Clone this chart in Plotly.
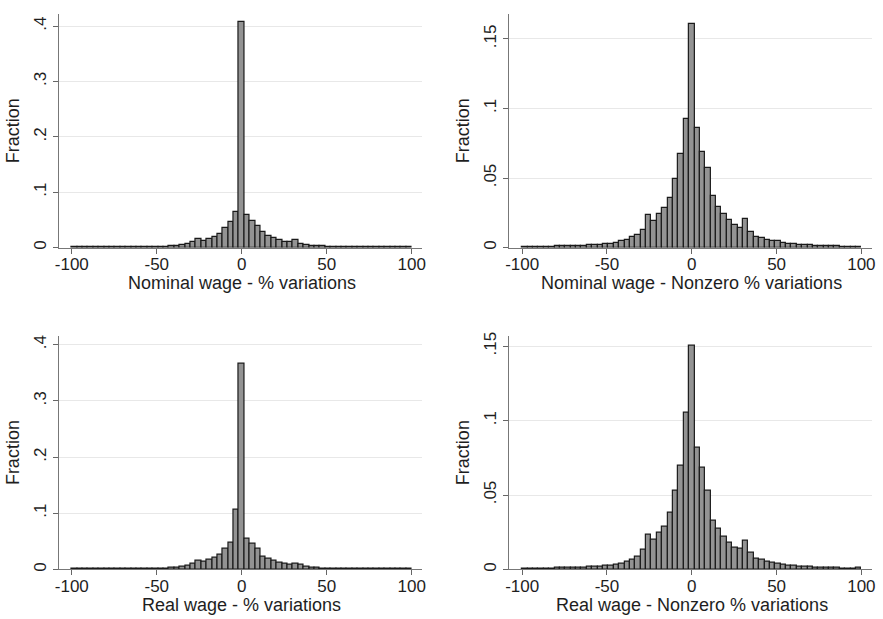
import plotly.graph_objects as go

# ---- Data: histogram fractions, 63 bins from -100 to 100 ----
BIN_START = -100.0
BIN_END = 100.0
N_BINS = 63

nominal_all = [0.0005, 0.0005, 0.0005, 0.0005, 0.0005, 0.0005, 0.0005, 0.0005, 0.0006, 0.0006,
               0.0007, 0.0008, 0.0009, 0.0010, 0.0012, 0.0014, 0.0017, 0.0020, 0.0025, 0.0032,
               0.0042, 0.0060, 0.0100, 0.0165, 0.0130, 0.0155, 0.0185, 0.0245, 0.0350, 0.0465,
               0.0645, 0.4070, 0.0590, 0.0485, 0.0385, 0.0275, 0.0210, 0.0170, 0.0140, 0.0110,
               0.0105, 0.0135, 0.0075, 0.0050, 0.0036, 0.0030, 0.0025, 0.0020, 0.0016, 0.0013,
               0.0011, 0.0010, 0.0009, 0.0008, 0.0007, 0.0006, 0.0006, 0.0005, 0.0005, 0.0005,
               0.0005, 0.0005, 0.0006]

nominal_nonzero = [0.0004, 0.0004, 0.0005, 0.0006, 0.0007, 0.0008, 0.0009, 0.0010, 0.0011, 0.0012,
                   0.0013, 0.0015, 0.0017, 0.0020, 0.0022, 0.0026, 0.0030, 0.0037, 0.0046, 0.0056,
                   0.0075, 0.0092, 0.0130, 0.0232, 0.0193, 0.0243, 0.0285, 0.0356, 0.0495, 0.0675,
                   0.0927, 0.1610, 0.0860, 0.0690, 0.0570, 0.0370, 0.0290, 0.0240, 0.0200, 0.0160,
                   0.0140, 0.0210, 0.0116, 0.0080, 0.0068, 0.0057, 0.0047, 0.0045, 0.0033, 0.0028,
                   0.0024, 0.0023, 0.0020, 0.0017, 0.0015, 0.0013, 0.0012, 0.0010, 0.0009, 0.0008,
                   0.0007, 0.0006, 0.0006]

real_all = [0.0005, 0.0005, 0.0005, 0.0005, 0.0005, 0.0005, 0.0005, 0.0005, 0.0006, 0.0006,
            0.0007, 0.0008, 0.0009, 0.0010, 0.0012, 0.0014, 0.0017, 0.0020, 0.0025, 0.0030,
            0.0040, 0.0060, 0.0100, 0.0150, 0.0130, 0.0170, 0.0210, 0.0260, 0.0370, 0.0480,
            0.1065, 0.3660, 0.0555, 0.0465, 0.0360, 0.0220, 0.0190, 0.0155, 0.0125, 0.0095,
            0.0080, 0.0106, 0.0092, 0.0050, 0.0035, 0.0026, 0.0020, 0.0017, 0.0014, 0.0012,
            0.0011, 0.0010, 0.0009, 0.0008, 0.0007, 0.0006, 0.0006, 0.0005, 0.0005, 0.0005,
            0.0005, 0.0005, 0.0006]

real_nonzero = [0.0004, 0.0004, 0.0005, 0.0006, 0.0007, 0.0008, 0.0009, 0.0010, 0.0011, 0.0012,
                0.0013, 0.0014, 0.0016, 0.0018, 0.0020, 0.0022, 0.0027, 0.0033, 0.0040, 0.0050,
                0.0066, 0.0086, 0.0135, 0.0235, 0.0200, 0.0250, 0.0290, 0.0380, 0.0530, 0.0700,
                0.1055, 0.1500, 0.0820, 0.0686, 0.0530, 0.0330, 0.0274, 0.0220, 0.0180, 0.0148,
                0.0140, 0.0195, 0.0110, 0.0075, 0.0064, 0.0053, 0.0046, 0.0038, 0.0030, 0.0026,
                0.0022, 0.0020, 0.0018, 0.0016, 0.0014, 0.0012, 0.0011, 0.0010, 0.0009, 0.0008,
                0.0007, 0.0006, 0.0012]

x_titles = ["Nominal wage - % variations", "Nominal wage - Nonzero % variations",
            "Real wage - % variations", "Real wage - Nonzero % variations"]
y_title = "Fraction"

x_tickvals = [-100, -50, 0, 50, 100]
x_ticktext = ["-100", "-50", "0", "50", "100"]
y_tick_all_vals = [0, 0.1, 0.2, 0.3, 0.4]
y_tick_all_text = ["0", ".1", ".2", ".3", ".4"]
y_tick_nz_vals = [0, 0.05, 0.1, 0.15]
y_tick_nz_text = ["0", ".05", ".1", ".15"]

# ---- Figure ----
W, H = 883, 619
bw = (BIN_END - BIN_START) / N_BINS
centers = [BIN_START + (k + 0.5) * bw for k in range(N_BINS)]

series = [nominal_all, nominal_nonzero, real_all, real_nonzero]
yranges = [[0, 0.422], [0, 0.168], [0, 0.416], [0, 0.157]]
yticks = [(y_tick_all_vals, y_tick_all_text), (y_tick_nz_vals, y_tick_nz_text),
          (y_tick_all_vals, y_tick_all_text), (y_tick_nz_vals, y_tick_nz_text)]

# pixel boxes (left, right, top, bottom)
boxes = [(55, 421.7, 10, 246), (509, 875, 10, 246),
         (55, 421.7, 335, 571), (509, 875, 335, 571)]
xr = [-107.8, 106.3]

FONT = "Liberation Sans, Arial, sans-serif"
fig = go.Figure()
layout = dict(width=W, height=H, margin=dict(l=0, r=0, t=0, b=0),
              paper_bgcolor="white", plot_bgcolor="white", showlegend=False,
              font=dict(family=FONT, size=17, color="#1e1e1e"), bargap=0)
annotations = []

for i, vals in enumerate(series):
    n = i + 1
    sfx = "" if n == 1 else str(n)
    fig.add_trace(go.Bar(x=centers, y=vals, width=bw,
                         marker=dict(color="#939393", line=dict(color="#1a1a1a", width=1.2)),
                         xaxis="x" + sfx, yaxis="y" + sfx, hoverinfo="x+y"))
    l, r, t, b = boxes[i]
    layout["xaxis" + sfx] = dict(
        domain=[l / W, r / W], range=xr, anchor="y" + sfx,
        tickvals=x_tickvals, ticktext=x_ticktext, ticks="outside", ticklen=5,
        tickcolor="#666666", showline=True, linecolor="#777777", linewidth=1,
        showgrid=False, zeroline=False, tickfont=dict(size=17), ticklabelstandoff=-4)
    tv, tt = yticks[i]
    layout["yaxis" + sfx] = dict(
        domain=[1 - b / H, 1 - t / H], range=yranges[i], anchor="x" + sfx,
        tickvals=tv, ticktext=tt, ticks="outside", ticklen=5, tickangle=-90,
        tickcolor="#666666", showline=True, linecolor="#777777", linewidth=1,
        showgrid=True, gridcolor="#e8e8e8", gridwidth=1, zeroline=False,
        tickfont=dict(size=17),
        title=dict(text=y_title, font=dict(size=18), standoff=6))
    # x-axis title positioned under the tick labels, centred on the 0 tick
    x0px = l + (0 - xr[0]) / (xr[1] - xr[0]) * (r - l)
    annotations.append(dict(text=x_titles[i], x=x0px / W, y=1 - (b + 36) / H,
                            xref="paper", yref="paper", xanchor="center", yanchor="middle",
                            showarrow=False, font=dict(size=18, family=FONT, color="#1e1e1e")))

layout["annotations"] = annotations
fig.update_layout(**layout)
fig.write_html("out.html", config={"displayModeBar": False})

# remove the default page margin so the figure sits at the window's top-left corner
with open("out.html", "r", encoding="utf-8") as f:
    html = f.read()
html = html.replace("<head>", "<head><style>html,body{margin:0;padding:0;overflow:hidden;}</style>", 1)
with open("out.html", "w", encoding="utf-8") as f:
    f.write(html)
